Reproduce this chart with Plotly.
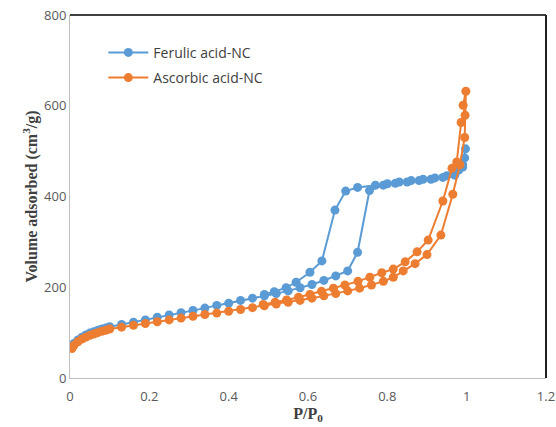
import plotly.graph_objects as go

# Ferulic acid-NC: adsorption branch then desorption branch
fer_x = [0.005, 0.01, 0.02, 0.03, 0.04, 0.05, 0.06, 0.07, 0.08, 0.09, 0.10, 0.13, 0.16, 0.19, 0.22,
         0.25, 0.28, 0.31, 0.34, 0.37, 0.40, 0.43, 0.46, 0.49, 0.52, 0.55, 0.58, 0.61, 0.64, 0.67,
         0.70, 0.725, 0.755, 0.79, 0.82, 0.85, 0.88, 0.91, 0.94, 0.97, 0.99, 0.997,
         0.995, 0.99, 0.98, 0.95, 0.92, 0.89, 0.86, 0.83, 0.80, 0.77, 0.725, 0.695, 0.668,
         0.635, 0.605, 0.57, 0.545, 0.515, 0.49]
fer_y = [68, 76, 84, 90, 95, 99, 102, 105, 108, 110, 113, 118, 123, 128, 134,
         139, 144, 149, 154, 160, 165, 171, 176, 181, 186, 192, 199, 206, 215, 225,
         236, 277, 413, 425, 429, 432, 435, 438, 442, 447, 465, 505,
         485, 470, 458, 446, 441, 438, 435, 432, 428, 425, 420, 412, 370,
         258, 233, 211, 199, 190, 184]

# Ascorbic acid-NC: adsorption branch then desorption branch
asc_x = [0.005, 0.01, 0.02, 0.03, 0.04, 0.05, 0.06, 0.07, 0.08, 0.09, 0.10, 0.13, 0.16, 0.19, 0.22,
         0.25, 0.28, 0.31, 0.34, 0.37, 0.40, 0.43, 0.46, 0.49, 0.52, 0.55, 0.58, 0.61, 0.64, 0.67,
         0.70, 0.73, 0.76, 0.79, 0.815, 0.84, 0.87, 0.90, 0.935, 0.965, 0.983, 0.995, 0.998,
         0.991, 0.996, 0.986, 0.975, 0.963, 0.94, 0.903, 0.875, 0.845, 0.815, 0.786, 0.756,
         0.726, 0.693, 0.664, 0.634, 0.605, 0.576, 0.546, 0.517, 0.487]
asc_y = [65, 72, 80, 86, 90, 94, 97, 100, 103, 105, 108, 112, 116, 120, 124,
         128, 132, 136, 140, 143, 147, 151, 155, 159, 163, 167, 171, 176, 181, 186,
         192, 198, 205, 213, 222, 236, 252, 272, 315, 405, 470, 530, 632,
         601, 579, 563, 476, 462, 390, 304, 278, 256, 240, 232, 222,
         213, 205, 198, 191, 184, 178, 172, 167, 162]

x_ticks = [0, 0.2, 0.4, 0.6, 0.8, 1, 1.2]
x_tick_text = ["0", "0.2", "0.4", "0.6", "0.8", "1", "1.2"]
y_ticks = [0, 200, 400, 600, 800]

BLUE = "#5B9BD5"
ORANGE = "#ED7D31"

fig = go.Figure()
fig.add_trace(go.Scatter(x=fer_x, y=fer_y, mode="lines+markers", name="Ferulic acid-NC",
                         legendgroup="fer",
                         line=dict(color=BLUE, width=2), marker=dict(color=BLUE, size=9)))
fig.add_trace(go.Scatter(x=asc_x, y=asc_y, mode="lines+markers", name="Ascorbic acid-NC",
                         legendgroup="asc",
                         line=dict(color=ORANGE, width=2), marker=dict(color=ORANGE, size=9)))

tick_font = dict(family="Open Sans, Lato, sans-serif", size=13, color="#595959")
title_font = dict(family="Liberation Serif, Times New Roman, serif", size=16, color="#404040")

fig.update_layout(
    width=556, height=427,
    margin=dict(l=70, r=10, t=15, b=49, autoexpand=False),
    paper_bgcolor="white", plot_bgcolor="white",
    showlegend=True,
    legend=dict(x=0.07, y=0.94, xanchor="left", yanchor="top",
                font=dict(family="Open Sans, Lato, sans-serif", size=14, color="#404040"),
                bgcolor="rgba(0,0,0,0)", tracegroupgap=4, itemwidth=40),
    xaxis=dict(range=[0, 1.2], tickvals=x_ticks, ticktext=x_tick_text, showgrid=False,
               zeroline=False, showline=True, linecolor="#BFBFBF", linewidth=1,
               ticks="", tickfont=tick_font, automargin=False, ticklabelstandoff=6,
               title=dict(text="<b>P/P<sub>0</sub></b>", font=title_font, standoff=3)),
    yaxis=dict(range=[0, 800], tickvals=y_ticks, showgrid=False, zeroline=False,
               showline=True, linecolor="#BFBFBF", linewidth=1, ticks="",
               tickfont=tick_font, automargin=False,
               title=dict(text="<b>Volume adsorbed (cm<sup>3</sup>/g)</b>", font=title_font, standoff=2)),
    shapes=[
        dict(type="line", xref="paper", yref="paper", x0=0, x1=1, y0=1, y1=1,
             line=dict(color="#404040", width=2)),
        dict(type="line", xref="paper", yref="paper", x0=1, x1=1, y0=0, y1=1,
             line=dict(color="#202020", width=2)),
    ],
)

fig.write_html("out.html")
